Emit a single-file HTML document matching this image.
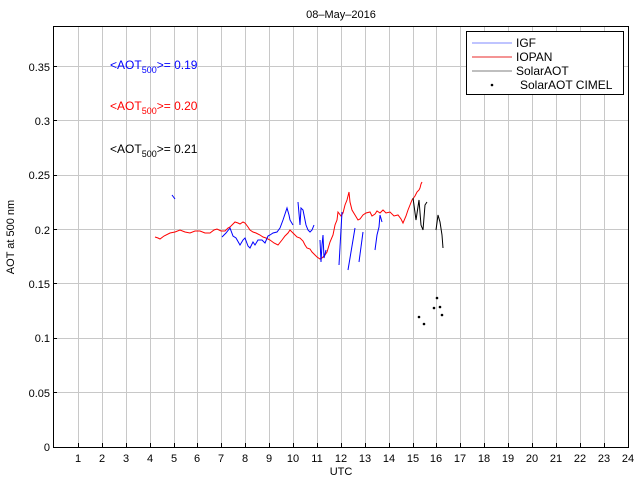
<!DOCTYPE html>
<html><head><meta charset="utf-8"><style>body{margin:0;background:#fff}svg{display:block;font-family:"Liberation Sans",sans-serif}</style></head><body>
<svg width="640" height="480" viewBox="0 0 640 480">
<rect x="0" y="0" width="640" height="480" fill="#fff"/>
<g stroke="#c8c8c8" stroke-width="1">
<path d="M78.5 27V447M102.5 27V447M126.5 27V447M150.5 27V447M174.5 27V447M197.5 27V447M221.5 27V447M245.5 27V447M269.5 27V447M293.5 27V447M317.5 27V447M341.5 27V447M365.5 27V447M389.5 27V447M413.5 27V447M436.5 27V447M460.5 27V447M484.5 27V447M508.5 27V447M532.5 27V447M556.5 27V447M580.5 27V447M604.5 27V447"/>
<path d="M53 392.5H628M53 338.5H628M53 283.5H628M53 229.5H628M53 175.5H628M53 120.5H628M53 66.5H628"/>
</g>
<rect x="53.5" y="26.5" width="575" height="421" fill="none" stroke="#000"/>
<g stroke="#000"><path d="M78.5 447v-4M102.5 447v-4M126.5 447v-4M150.5 447v-4M174.5 447v-4M197.5 447v-4M221.5 447v-4M245.5 447v-4M269.5 447v-4M293.5 447v-4M317.5 447v-4M341.5 447v-4M365.5 447v-4M389.5 447v-4M413.5 447v-4M436.5 447v-4M460.5 447v-4M484.5 447v-4M508.5 447v-4M532.5 447v-4M556.5 447v-4M580.5 447v-4M604.5 447v-4M53 392.5h4M53 338.5h4M53 283.5h4M53 229.5h4M53 175.5h4M53 120.5h4M53 66.5h4"/></g>
<g font-size="11" text-anchor="end" fill="#000">
<text x="50" y="451">0</text><text x="50" y="397">0.05</text><text x="50" y="342">0.1</text><text x="50" y="288">0.15</text><text x="50" y="234">0.2</text><text x="50" y="179">0.25</text><text x="50" y="125">0.3</text><text x="50" y="71">0.35</text>
</g>
<g font-size="11" text-anchor="middle" fill="#000">
<text x="78" y="462">1</text><text x="102" y="462">2</text><text x="126" y="462">3</text><text x="150" y="462">4</text><text x="174" y="462">5</text><text x="197" y="462">6</text><text x="221" y="462">7</text><text x="245" y="462">8</text><text x="269" y="462">9</text><text x="293" y="462">10</text><text x="317" y="462">11</text><text x="341" y="462">12</text><text x="365" y="462">13</text><text x="389" y="462">14</text><text x="413" y="462">15</text><text x="436" y="462">16</text><text x="460" y="462">17</text><text x="484" y="462">18</text><text x="508" y="462">19</text><text x="532" y="462">20</text><text x="556" y="462">21</text><text x="580" y="462">22</text><text x="604" y="462">23</text><text x="628" y="462">24</text>
<text x="341" y="475">UTC</text>
<text x="341" y="18">08–May–2016</text>
</g>
<text transform="translate(14,237) rotate(-90)" font-size="11" text-anchor="middle">AOT at 500 nm</text>
<polyline fill="none" stroke="#f00" stroke-width="1" points="155,237 158,238 160,239 164,236 170,233 175,232 180,230 185,232 190,233 195,231 200,231 205,233 210,233 214,230 217,229 221,231 225,231 228,228 230,227 233,224 235,222 238,223 240,224 243,222 245,223 248,227 250,230 253,232 256,233 260,235 263,237 266,238 270,240 274,243 278,245 282,240 285,236 288,233 290,230 294,234 297,237 300,238 303,241 305,245 307,248 310,249 312,252 314,254 317,257 320,259 322,258 325,255 327,252 330,242 333,235 335,225 337,220 338,212 341,216 343,213 345,205 347,200 349,192 350,202 352,210 355,215 358,220 360,219 363,215 366,213 370,212 372,216 375,214 377,211 380,213 383,210 386,213 390,212 394,216 398,215 401,219 403,223 406,216 408,210 410,205 412,200 415,196 417,192 419,190 420,188 421,184 422,182"/>
<g fill="none" stroke="#00f" stroke-width="1">
<polyline points="172,195 175,199"/>
<polyline points="222,237 226,233 230,228 233,236 236,238 240,245 243,240 245,238 248,246 250,248 253,242 255,245 258,240 262,240 265,243 268,236 270,235 273,233 277,232 280,228 283,220 285,214 287,208 289,215 290,220 293,225"/>
<polyline points="298,202 300,225 301,208 303,210 305,220 306,225 308,230 310,232 312,230 314,225"/>
<polyline points="320,240 321,262 322,245 323,235 324,258 326,250"/>
<polyline points="339,265 342,212"/>
<polyline points="348,270 355,228"/>
<polyline points="359,262 363,232"/>
<polyline points="375,250 377,235 379,227 380,215 382,222"/>
</g>
<g fill="none" stroke="#000" stroke-width="1">
<polyline points="413,198 416,220 419,200 421,225 423,230 425,205 427,202"/>
<polyline points="436,230 438,215 440,222 442,235 443,248"/>
</g>
<g fill="#000"><circle cx="419" cy="317" r="1.3"/><circle cx="424" cy="324" r="1.3"/><circle cx="434" cy="308" r="1.3"/><circle cx="437" cy="298" r="1.3"/><circle cx="440" cy="307" r="1.3"/><circle cx="442" cy="315" r="1.3"/></g>
<g font-size="12">
<text x="110" y="69" fill="#00f">&lt;AOT<tspan font-size="9" dy="4">500</tspan><tspan dy="-4">&gt;= 0.19</tspan></text>
<text x="110" y="110" fill="#f00">&lt;AOT<tspan font-size="9" dy="4">500</tspan><tspan dy="-4">&gt;= 0.20</tspan></text>
<text x="110" y="153" fill="#000">&lt;AOT<tspan font-size="9" dy="4">500</tspan><tspan dy="-4">&gt;= 0.21</tspan></text>
</g>
<rect x="466.5" y="31.5" width="157" height="63" fill="#fff" stroke="#000"/>
<g stroke-width="1.5"><line x1="472" y1="43" x2="512" y2="43" stroke="#aab0ff"/><line x1="472" y1="57" x2="512" y2="57" stroke="#f07070"/><line x1="472" y1="71" x2="512" y2="71" stroke="#aaa"/></g>
<circle cx="492" cy="85" r="1.3" fill="#000"/>
<g font-size="12"><text x="516" y="47">IGF</text><text x="516" y="61">IOPAN</text><text x="516" y="75">SolarAOT</text><text x="520" y="89">SolarAOT CIMEL</text></g>
</svg>
</body></html>
